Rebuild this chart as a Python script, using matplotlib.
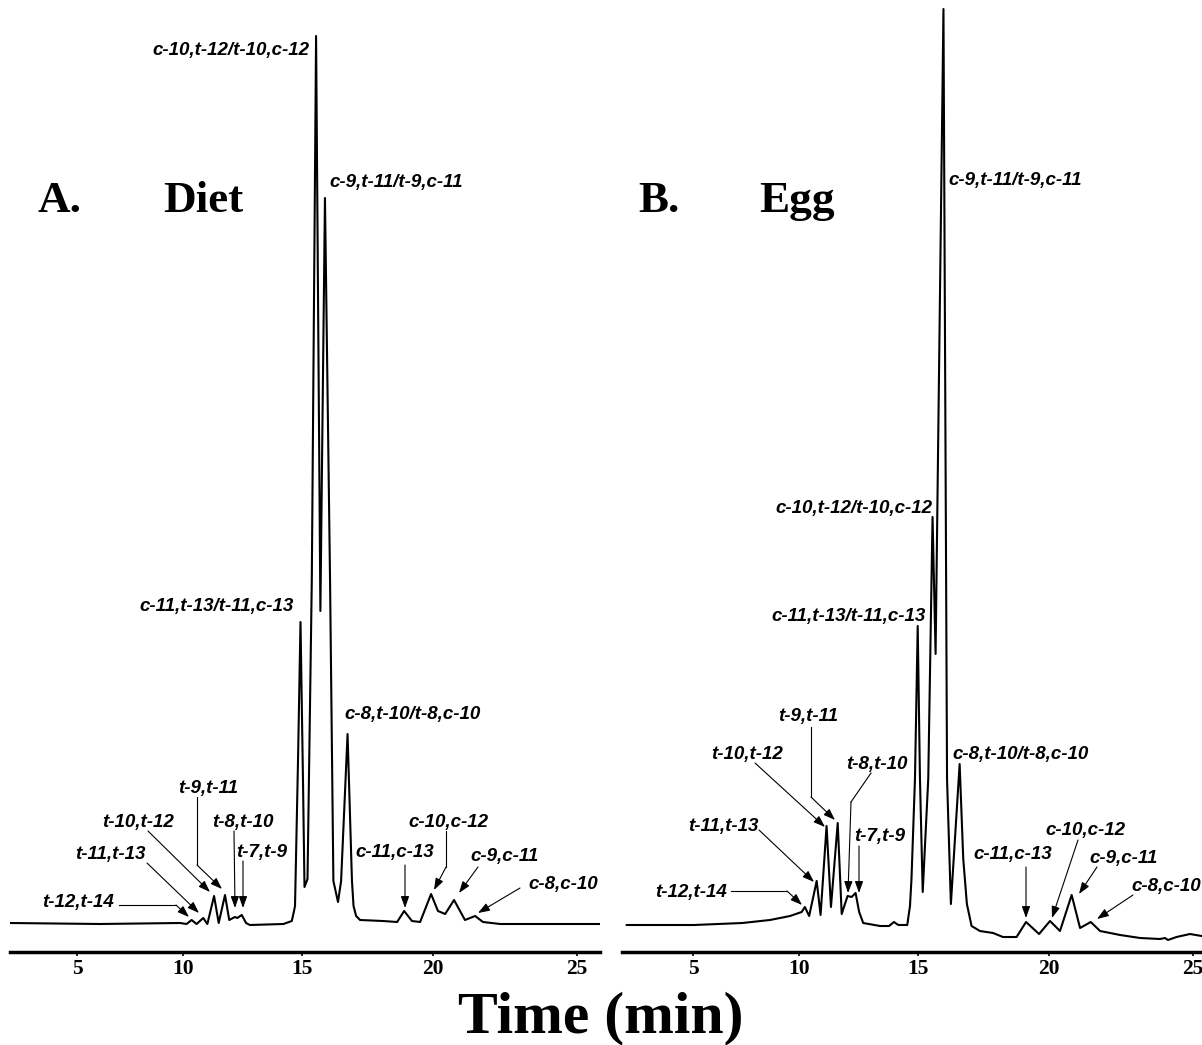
import numpy as np
import matplotlib
matplotlib.use("Agg")
import matplotlib.pyplot as plt
from matplotlib.transforms import Affine2D
from matplotlib.lines import Line2D
from matplotlib.patches import FancyArrowPatch

# retention time (min) and detector response (arb. units)
diet_time = [1.50, 6.13, 9.86, 10.15, 10.37, 10.59, 10.88, 11.06, 11.35, 11.55,
             11.82, 12.00, 12.24, 12.34, 12.53, 12.71, 12.87, 14.25, 14.59, 14.68,
             14.72, 14.84, 14.94, 15.04, 15.10, 15.22, 15.39, 15.56, 15.73, 15.91,
             16.11, 16.24, 16.42, 16.54, 16.79, 16.96, 17.02, 17.12, 17.27, 18.14,
             18.67, 18.93, 19.22, 19.52, 19.92, 20.17, 20.43, 20.75, 21.14, 21.50,
             21.78, 22.38, 25.76]
diet_signal = [2.9, 2.8, 2.9, 2.8, 3.2, 2.8, 3.4, 2.8, 5.6, 2.9,
               5.7, 3.2, 3.5, 3.4, 3.7, 2.9, 2.7, 2.8, 3.1, 4.1,
               4.6, 19.1, 33.0, 17.1, 6.5, 7.3, 37.1, 91.6, 34.1, 75.4,
               37.1, 7.1, 5.0, 7.1, 21.8, 7.1, 4.6, 3.6, 3.2, 3.1,
               3.0, 4.1, 3.1, 3.0, 5.8, 4.1, 3.8, 5.2, 3.2, 3.6,
               3.0, 2.8, 2.8]

egg_time = [1.54, 5.05, 7.40, 8.68, 9.59, 10.11, 10.25, 10.44, 10.77, 10.94,
            11.20, 11.39, 11.68, 11.85, 12.10, 12.27, 12.44, 12.59, 12.76, 13.46,
            13.83, 14.03, 14.21, 14.57, 14.68, 14.74, 14.88, 14.99, 15.08, 15.19,
            15.41, 15.58, 15.70, 16.01, 16.15, 16.30, 16.64, 16.78, 16.92, 17.10,
            17.42, 17.92, 18.29, 18.80, 19.15, 19.63, 20.03, 20.39, 20.81, 21.11,
            21.49, 21.82, 22.52, 23.21, 23.89, 24.06, 24.16, 24.45, 24.90, 25.29]
egg_signal = [2.7, 2.7, 2.9, 3.2, 3.6, 4.0, 4.5, 3.6, 7.1, 3.7,
              12.6, 4.5, 12.9, 3.8, 5.6, 5.5, 5.9, 4.0, 2.9, 2.6,
              2.6, 3.0, 2.7, 2.7, 4.6, 7.3, 17.3, 32.6, 17.3, 6.0,
              17.3, 43.5, 29.8, 94.3, 17.3, 4.8, 18.8, 9.3, 4.8, 2.6,
              2.1, 1.9, 1.5, 1.5, 3.0, 1.8, 3.1, 2.1, 5.7, 2.4,
              3.0, 2.1, 1.7, 1.4, 1.3, 1.4, 1.2, 1.5, 1.8, 1.6]

time_ticks = [5, 10, 15, 20, 25]

# labels: (text, x, y, ha, arrow path) -- positions in image pixels
diet_labels = [
    ("c-10,t-12/t-10,c-12", 309, 50, "right", []),
    ("c-9,t-11/t-9,c-11", 329, 182, "left", []),
    ("c-11,t-13/t-11,c-13", 294, 607, "right", []),
    ("c-8,t-10/t-8,c-10", 344, 715, "left", []),
    ("t-9,t-11", 208, 788, "center", [(197, 797), (197, 865), (222, 889)]),
    ("t-10,t-12", 138, 822, "center", [(148, 831), (210, 892)]),
    ("t-8,t-10", 243, 822, "center", [(234, 831), (235, 908)]),
    ("t-7,t-9", 262, 853, "center", [(243, 861), (243, 908)]),
    ("t-11,t-13", 110, 855, "center", [(147, 863), (199, 913)]),
    ("t-12,t-14", 114, 903, "right", [(119, 905), (176, 905), (189, 917)]),
    ("c-11,c-13", 395, 853, "center", [(405, 865), (405, 908)]),
    ("c-10,c-12", 448, 822, "center", [(446, 831), (446, 867), (434, 890)]),
    ("c-9,c-11", 505, 857, "center", [(478, 867), (459, 893)]),
    ("c-8,c-10", 598, 885, "right", [(520, 888), (478, 913)]),
]
egg_labels = [
    ("c-9,t-11/t-9,c-11", 948, 180, "left", []),
    ("c-10,t-12/t-10,c-12", 932, 508, "right", []),
    ("c-11,t-13/t-11,c-13", 926, 617, "right", []),
    ("c-8,t-10/t-8,c-10", 952, 755, "left", []),
    ("t-9,t-11", 808, 717, "center", [(811, 727), (811, 797), (835, 820)]),
    ("t-10,t-12", 747, 754, "center", [(755, 763), (825, 827)]),
    ("t-8,t-10", 877, 765, "center", [(871, 773), (851, 802), (848, 893)]),
    ("t-7,t-9", 880, 837, "center", [(859, 846), (859, 893)]),
    ("t-11,t-13", 723, 827, "center", [(759, 830), (814, 882)]),
    ("t-12,t-14", 727, 892, "right", [(731, 891), (787, 891), (802, 905)]),
    ("c-11,c-13", 1013, 855, "center", [(1026, 867), (1026, 918)]),
    ("c-10,c-12", 1085, 830, "center", [(1078, 840), (1052, 918)]),
    ("c-9,c-11", 1124, 858, "center", [(1097, 867), (1079, 894)]),
    ("c-8,c-10", 1201, 886, "right", [(1133, 895), (1097, 919)]),
]

SERIF = "Liberation Serif"
SANS = "Liberation Sans"

W, H = 12.02, 10.45
fig = plt.figure(figsize=(W, H), dpi=100)
pix = Affine2D().scale(1 / 100, -1 / 100).translate(0, H) + fig.dpi_scale_trans


# the printed time axis is slightly stretched toward late retention times
def fwd(t):
    t = np.asarray(t, dtype=float)
    return 0.25 * t ** 2 + 17.5 * t


def inv(u):
    u = np.asarray(u, dtype=float)
    return 2 * (np.sqrt(np.clip(306.25 + u, 0, None)) - 17.5)


def panel(rect, t, s, xlim):
    ax = fig.add_axes(rect)
    ax.set_xscale("function", functions=(fwd, inv))
    ax.plot(t, s, color="black", lw=1.5, solid_joinstyle="round")
    ax.set_xlim(*xlim)
    ax.set_ylim(0, 95.2)
    for side in ["top", "left", "right"]:
        ax.spines[side].set_visible(False)
    ax.spines["bottom"].set_linewidth(2.5)
    ax.set_yticks([])
    ax.set_xticks(time_ticks)
    ax.set_xticklabels([str(v) for v in time_ticks], fontfamily=SERIF,
                       fontweight="bold", fontsize=15.5)
    ax.tick_params(axis="x", length=3, width=1.2, pad=2)
    ax.patch.set_alpha(0)
    return ax


def labels(items):
    for text, x, y, ha, path in items:
        fig.text(x, y, text, transform=pix, ha=ha, va="center", fontsize=13.5,
                 fontfamily=SANS, fontweight="bold", fontstyle="italic")
        if len(path) > 2:
            xs = [p[0] for p in path[:-1]]
            ys = [p[1] for p in path[:-1]]
            fig.add_artist(Line2D(xs, ys, transform=pix, color="black", lw=0.8))
        if len(path) >= 2:
            fig.add_artist(FancyArrowPatch(path[-2], path[-1], transform=pix,
                                           arrowstyle="-|>,head_length=0.7,head_width=0.25",
                                           mutation_scale=10, lw=0.8, color="black",
                                           shrinkA=0, shrinkB=0))


bottom = (1045 - 952) / 1045
height = 952 / 1045
panel([10 / 1202, bottom, 590 / 1202, height], diet_time, diet_signal, (1.50, 25.76))
panel([622 / 1202, bottom, 580 / 1202, height], egg_time, egg_signal, (1.28, 25.30))

labels(diet_labels)
labels(egg_labels)

for txt, x in [("A.", 38), ("Diet", 163), ("B.", 638), ("Egg", 759)]:
    fig.text(x, 212, txt, transform=pix, ha="left", va="baseline",
             fontfamily=SERIF, fontweight="bold", fontsize=32.5)

fig.text(601, 1032, "Time (min)", transform=pix, ha="center", va="baseline",
         fontfamily=SERIF, fontweight="bold", fontsize=43)

fig.savefig("out.png", dpi=100)
